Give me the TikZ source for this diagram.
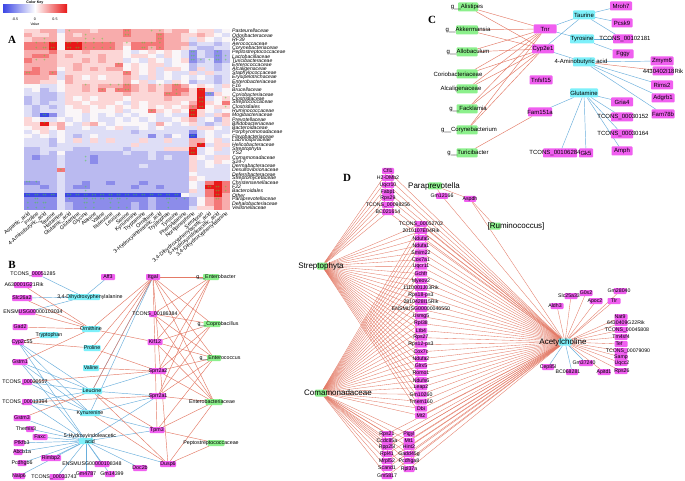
\documentclass[tikz,border=0pt]{standalone}
\usepackage{fontspec}
\setmainfont{Liberation Sans}
\newfontfamily\lserif{Liberation Serif}
\pgfdeclarelayer{bglayer}
\pgfdeclarelayer{edgelayer}
\pgfsetlayers{bglayer,edgelayer,main}
\definecolor{mag}{RGB}{240,95,240}
\definecolor{cya}{RGB}{125,240,250}
\definecolor{grn}{RGB}{140,240,140}
\definecolor{redE}{RGB}{228,122,102}
\definecolor{bluE}{RGB}{105,175,220}
\definecolor{mkg}{RGB}{70,210,50}
\definecolor{hR}{RGB}{232,25,25}
\definecolor{hr}{RGB}{244,120,120}
\definecolor{hp}{RGB}{248,172,172}
\definecolor{hq}{RGB}{252,214,214}
\definecolor{hw}{RGB}{250,246,248}
\definecolor{hc}{RGB}{222,222,246}
\definecolor{hb}{RGB}{186,186,240}
\definecolor{hB}{RGB}{140,140,234}
\definecolor{hD}{RGB}{60,70,228}
\def\curfont{\fontsize{5.3}{6}\selectfont}
\tikzset{
 txt/.style={font=\curfont, inner sep=0pt, outer sep=0pt, text=black},
 bigt/.style={font=\fontsize{8}{9}\selectfont, inner sep=0pt, outer sep=0pt},
 nbox/.style={draw=none, inner sep=0pt, outer sep=0pt, rounded corners=0.8pt},
 eR/.style={draw=redE, line width=0.45pt},
 eB/.style={draw=bluE, line width=0.45pt},
 eRt/.style={draw=redE, line width=0.35pt},
 plab/.style={font=\lserif\bfseries\fontsize{11}{11}\selectfont, inner sep=0pt},
 rowlab/.style={font=\fontsize{5.1}{5}\selectfont\itshape, anchor=west, inner sep=0pt},
 collab/.style={font=\fontsize{5.3}{5}\selectfont, anchor=east, rotate=40, inner sep=0pt},
 mk/.style={font=\fontsize{4}{4}\selectfont, text=mkg, inner sep=0pt},
 keytxt/.style={font=\fontsize{3.6}{4}\selectfont, inner sep=0pt},
}
\newcommand\mkn[8]{%
 \node[nbox, fill=#1, minimum width=#6pt, minimum height=#7pt] (#2) at ({#3+#5},{#4}) {};
 \node[txt] (#2t) at ({#3},{#4}) {#8};}
\begin{document}
\begin{tikzpicture}[x=1pt,y=-1pt]
\useasboundingbox (0,0) rectangle (685,481);
\begin{pgfonlayer}{bglayer}
\fill[white] (0,0) rectangle (685,481);
\end{pgfonlayer}

% ---------------- Panel A ----------------
\node[keytxt, font=\fontsize{3.6}{4}\selectfont\bfseries] (ckt) at (35,2.5) {Color Key};
\shade[left color=hD, right color=hR, middle color=white] (3,5) rectangle (67,13);
\node[keytxt] (ck1) at (15,19) {-0.5};
\node[keytxt] (ck2) at (35,19) {0};
\node[keytxt] (ck3) at (55,19) {0.5};
\node[keytxt] (ck4) at (35,24) {Value};
\node[plab] (pA) at (12,40) {A};

\foreach \rowv [count=\i] in {{q,q,p,p,c,p,p,p,q,p,p,p,r,p,p,p,p,q,p,p,w,q,q,c,w},{p,q,q,p,w,p,q,p,p,p,p,p,r,p,p,p,r,p,p,q,q,p,q,w,c},{q,p,p,p,w,p,p,p,p,p,p,p,p,p,p,p,r,p,p,q,c,q,w,c,w},{r,r,r,R,w,R,R,r,r,r,r,p,q,r,r,r,r,p,p,p,b,c,c,b,c},{r,r,r,R,w,R,R,r,r,r,r,p,w,r,r,p,r,p,p,q,c,b,b,c,c},{p,p,p,r,q,q,q,p,q,q,q,q,w,c,w,q,w,q,w,c,B,c,b,B,b},{p,r,r,p,q,p,q,q,q,p,q,q,w,q,q,w,c,q,w,c,B,c,b,B,b},{r,p,p,p,q,q,q,p,q,p,q,q,c,w,c,q,w,c,w,q,B,b,c,B,b},{p,p,p,p,q,q,p,q,q,q,q,r,w,q,w,q,q,c,w,w,b,c,c,b,c},{p,r,p,p,w,q,p,q,p,q,p,p,w,q,w,q,c,q,q,w,b,q,c,b,c},{r,r,p,r,c,q,q,q,q,q,q,q,r,q,w,q,c,w,c,c,q,c,q,c,c},{p,p,p,q,c,p,q,w,q,w,q,q,p,q,c,q,c,w,c,w,c,w,c,b,c},{p,p,q,q,w,p,q,q,q,q,q,q,p,w,q,c,w,c,q,w,b,c,c,b,c},{w,w,c,c,w,q,q,p,q,p,p,p,r,p,q,p,q,p,r,p,w,q,w,c,q},{c,w,b,c,w,q,q,p,q,r,q,r,r,p,q,p,q,p,r,r,q,R,q,c,w},{c,c,b,b,c,q,q,q,q,q,q,q,p,q,q,q,q,r,r,p,q,R,B,q,w},{b,c,b,b,c,q,w,q,w,q,q,q,w,q,q,q,q,p,q,q,q,R,c,w,q},{b,c,b,c,c,q,q,w,q,q,q,w,c,q,w,q,q,q,q,w,p,R,q,w,r},{c,b,c,b,c,w,q,q,w,q,w,q,w,q,w,q,w,q,w,q,r,R,w,q,q},{c,b,c,c,c,w,w,q,w,w,w,q,c,w,w,r,q,w,q,w,R,q,w,c,w},{c,b,D,B,c,w,w,c,w,c,w,c,w,c,w,w,c,w,c,c,R,q,c,q,p},{q,w,c,c,w,c,w,c,w,c,c,w,c,w,c,w,c,c,w,q,p,c,w,b,q},{q,q,R,q,p,w,c,q,p,w,c,w,w,w,w,c,p,w,c,w,q,c,b,c,q},{w,q,q,w,p,c,c,w,c,c,w,q,c,c,w,c,w,c,c,c,c,q,q,w,c},{c,w,q,c,w,c,c,c,c,c,c,c,c,b,c,c,c,c,c,c,B,c,w,c,c},{w,c,w,c,w,c,b,c,w,c,c,c,c,c,c,B,c,b,w,c,D,c,w,c,w},{c,c,c,b,w,c,q,c,q,c,q,c,c,c,q,c,c,q,c,c,p,p,w,q,c},{c,c,c,b,c,c,c,c,c,c,c,c,c,q,c,c,c,c,c,c,p,R,c,q,q},{b,b,c,c,c,c,b,b,c,c,c,c,b,c,c,c,c,q,q,q,R,c,w,q,c},{b,b,c,b,w,b,b,b,b,b,b,b,c,b,b,c,b,b,b,b,R,c,w,c,c},{b,B,b,b,c,b,b,b,B,b,b,b,b,b,b,c,b,c,b,b,q,w,c,q,q},{b,b,b,b,c,b,b,b,B,b,b,b,b,b,b,b,b,b,b,b,q,c,w,q,w},{b,b,b,b,c,b,b,b,b,b,b,b,b,b,c,b,b,b,b,b,q,c,w,c,c},{b,b,b,b,r,b,b,b,b,b,b,b,b,b,b,b,b,b,b,b,q,c,c,c,c},{b,b,b,b,c,b,b,b,b,b,b,b,b,b,b,b,b,b,b,b,w,c,c,c,c},{b,b,b,b,c,b,b,b,b,b,b,b,b,b,b,b,b,b,b,b,q,w,c,c,c},{B,B,b,b,c,b,b,B,b,b,B,b,b,b,B,b,b,b,b,b,w,c,r,R,r},{b,b,B,b,c,b,B,B,b,b,b,b,b,B,b,b,B,b,b,b,w,c,R,R,r},{b,b,b,b,c,b,b,b,b,b,b,b,b,b,b,b,b,b,b,b,q,c,r,R,r},{D,D,D,D,c,D,D,D,D,D,D,D,D,D,D,D,D,D,D,w,c,c,r,R,p},{B,B,B,B,c,B,B,B,B,B,B,B,B,B,B,b,B,B,B,B,b,w,p,r,p},{B,B,B,B,c,b,B,B,B,B,B,B,B,b,B,b,B,B,B,B,b,w,p,r,p},{B,B,B,B,c,b,B,B,B,B,B,B,B,b,B,b,B,B,B,B,c,q,q,r,p}}{%
  \foreach \cv [count=\j] in \rowv {%
    \fill[fill=h\cv] ({24+(\j-1)*8.24},{29+(\i-1)*4.21}) rectangle ++(8.5,4.45);
  }
}
\foreach \cc/\rr/\mm [count=\q] in {6/1/+,13/1/++,16/1/+,17/1/+,8/2/+,13/2/++,17/2/++,3/3/+,8/3/+,9/3/+,10/3/+,17/3/++,
2/4/+,3/4/+,4/4/++,6/4/++,7/4/+,8/4/+,9/4/+,10/4/+,11/4/+,13/4/+,15/4/++,16/4/+,17/4/+,
2/5/+,3/5/++,4/5/++,6/5/++,7/5/++,8/5/+,9/5/+,10/5/+,11/5/+,15/5/++,16/5/+,17/5/+,
21/6/++,24/6/+,3/7/+,21/7/++,24/7/++,25/7/+,2/8/+,3/8/+,21/8/++,22/8/+,23/8/+,24/8/++,25/8/+,
12/9/+,1/11/++,4/11/+,13/11/+,
8/14/+,11/14/+,12/14/+,13/14/++,17/14/+,19/14/++,10/15/+,12/15/+,13/15/++,19/15/+,22/15/++,
18/16/++,19/16/+,23/16/++,22/17/++,25/17/+,22/18/++,21/19/+,22/19/++,25/19/+,16/20/+,21/20/++,3/21/++,21/21/++,3/23/+,
21/26/++,22/28/+,21/29/++,21/30/++,8/31/+,8/32/+,5/34/+,1/37/++,2/37/+,8/38/+,23/38/++,24/38/++,25/38/+,8/39/+,24/39/++,25/39/+,
1/40/++,2/40/++,3/40/++,4/40/++,6/40/++,7/40/++,8/40/++,9/40/++,10/40/++,11/40/++,12/40/++,13/40/++,14/40/++,15/40/++,16/40/++,17/40/++,18/40/++,19/40/++,24/40/++,
2/41/++,6/41/+,8/41/++,9/41/++,10/41/++,11/41/++,12/41/++,13/41/+,18/41/++,19/41/+,20/41/+,24/41/++,
1/42/+,2/42/++,3/42/++,8/42/++,9/42/+,11/42/+,12/42/+,18/42/+,
1/43/+,2/43/+,3/43/+,8/43/+,9/43/+,11/43/+,12/43/+,13/43/+,18/43/+}
  \node[mk] (mk\q) at ({24+(\cc-0.5)*8.24},{29+(\rr-0.5)*4.21}) {\mm};

\foreach \n [count=\i] in {Pasteurellaceae,Odoribacteraceae,RF39,Aerococcaceae,Corynebacteriaceae,Peptostreptococcaceae,Lactobacillaceae,Turicibacteraceae,Enterococcaceae,Alcaligenaceae,Staphylococcaceae,Erysipelotrichaceae,Enterobacteriaceae,F16,Brucellaceae,Coriobacteriaceae,Clostridiaceae,Streptococcaceae,Clostridiales,Ruminococcaceae,Mogibacteriaceae,Prevotellaceae,Bifidobacteriaceae,Bacteroidaceae,Porphyromonadaceae,Flavobacteriaceae,Lachnospiraceae,Helicobacteraceae,Streptophyta,YS2,Comamonadaceae,S24-7,Dermabacteraceae,Desulfovibrionaceae,Deferribacteraceae,Streptomycetaceae,Christensenellaceae,F22,Bacteroidales,Other,Paraprevotellaceae,Dehalobacteriaceae,Veillonellaceae}
  \node[rowlab] (rl\i) at (232,{29+(\i-0.5)*4.21}) {\n};

\foreach \n [count=\j] in {Aspartic\_acid,Proline,4-Aminobutyric\_acid,Taurine,Histamine,Glutamic\_acid,Glutamine,Glycine,Alanine,Valine,Isoleucine,Leucine,Serine,Kynurenine,Tryptamine,Ornithine,3-Hydroxyanthranilic\_acid,Tryptophan,Tyrosine,Phenylalanine,Norepinephrine,Serotonin,{3,4-Dihydroxyphenylacetic\_acid},5-Hydroxyindoleacetic\_acid,{3,4-Dihydroxyphenylalanine}}
  \node[collab] (cl\j) at ({24+(\j-0.5)*8.24+1.5},213) {\n};

% ---------------- Panel B ----------------
\node[plab] (pB) at (12,265) {B};
\def\curfont{\fontsize{5.3}{6}\selectfont}
\mkn{mag}{bTC1}{33}{274}{4}{11}{6}{TCONS\_00051285}
\mkn{mag}{bA63}{24}{285}{-1}{18}{6}{A630001G21Rik}
\mkn{mag}{bSlc}{22}{298}{0}{20}{6}{Slc26a2}
\mkn{mag}{bENS}{33}{312}{-6}{17}{6}{ENSMUSG00000103034}
\mkn{mag}{bGad}{20}{327}{0}{15}{6}{Gad2}
\mkn{mag}{bCyp}{22}{342}{-4}{12}{6}{Cyp2c55}
\mkn{mag}{bGsA}{20}{362}{0}{15}{6}{Gstm1}
\mkn{mag}{bAff}{108}{277}{0}{14}{6}{Aff3}
\mkn{mag}{bItg}{153}{277}{0}{14}{6}{Itgal}
\mkn{mag}{bTC2}{155}{314}{-2}{8}{6}{TCONS\_00186384}
\mkn{mag}{bKif}{155}{342}{0}{15}{6}{Kif12}
\mkn{mag}{bSpB}{158}{371}{0}{16}{6}{Sprr2a2}
\mkn{mag}{bSpA}{158}{396}{0}{16}{6}{Sprr2a1}
\mkn{mag}{bTpm}{157}{430}{0}{15}{6}{Tpm3}
\mkn{mag}{bDus}{168}{464}{0}{16}{6}{Dusp6}
\mkn{mag}{bDoc}{140}{468}{0}{14}{6}{Doc2b}
\mkn{mag}{bG14}{112}{474}{-2}{10}{6}{Gm14399}
\mkn{mag}{bG47}{86}{474}{0}{14}{6}{Gm4787}
\mkn{mag}{bEN2}{92}{464}{10}{15}{6}{ENSMUSG00000108348}
\mkn{mag}{bTC3}{54}{477}{3}{15}{6}{TCONS\_00033743}
\mkn{mag}{bNai}{19}{476}{0}{12}{6}{Naip6}
\mkn{mag}{bRim}{51}{458}{0}{20}{6}{Rimbp2}
\mkn{mag}{bPcd}{22}{463}{0}{9}{6}{Pcdhgb6}
\mkn{mag}{bAbc}{22}{452}{-4}{9}{6}{Abcb1a}
\mkn{mag}{bPfk}{22}{443}{-3}{11}{6}{Pfkfb3}
\mkn{mag}{bFax}{40}{437}{0}{15}{6}{Faxc}
\mkn{mag}{bThe}{26}{429}{4}{8}{6}{Themis3}
\mkn{mag}{bGsB}{22}{418}{0}{17}{6}{Gstm3}
\mkn{mag}{bTC4}{25}{402}{2}{10}{6}{TCONS\_00013394}
\mkn{mag}{bTC5}{25}{382}{2}{10}{6}{TCONS\_00030557}
\mkn{cya}{bDOP}{90}{297}{-6}{32}{6}{3,4-Dihydroxyphenylalanine}
\mkn{cya}{bOrn}{91}{329}{0}{18}{6}{Ornithine}
\mkn{cya}{bTrp}{49}{335}{0}{19}{6}{Tryptophan}
\mkn{cya}{bPro}{92}{348}{0}{17}{6}{Proline}
\mkn{cya}{bVal}{91}{368}{0}{16}{6}{Valine}
\mkn{cya}{bLeu}{92}{391}{0}{20}{6}{Leucine}
\mkn{cya}{bKyn}{90}{413}{0}{20}{6}{Kynurenine}
\node[nbox, fill=cya, minimum width=14pt, minimum height=6pt] (bHIA) at (86,441) {};
\node[txt, align=center] (bHIAt) at (90,438.5) {5-Hydroxyindoleacetic\\acid};
\mkn{grn}{bEnt}{216}{277}{-5}{16}{6}{g\_\_Enterobacter}
\mkn{grn}{bCop}{218}{324}{-6}{17}{6}{g\_\_Coprobacillus}
\mkn{grn}{bEnc}{220}{358}{-6}{14}{6}{g\_\_Enterococcus}
\mkn{grn}{bEnF}{212}{402}{2}{17}{6}{Enterobacteriaceae}
\mkn{grn}{bPep}{211}{443}{5}{17}{6}{Peptostreptococcaceae}

% ---------------- Panel C ----------------
\node[plab] (pC) at (432,20) {C};
\def\curfont{\fontsize{6}{7}\selectfont}
\mkn{grn}{cAli}{467}{7}{1}{20}{9}{g\_\_Alistipes}
\mkn{grn}{cAkk}{468}{30}{-1}{22}{9}{g\_\_Akkermansia}
\mkn{grn}{cAllo}{468}{52}{-1}{21}{9}{g\_\_Allobaculum}
\mkn{grn}{cCor}{458}{74}{9}{21}{9}{Coriobacteriaceae}
\mkn{grn}{cAlc}{461}{89}{6}{21}{9}{Alcaligenaceae}
\mkn{grn}{cFac}{468}{109}{-1}{21}{9}{g\_\_Facklamia}
\mkn{grn}{cCory}{469}{130}{-2}{21}{9}{g\_\_Corynebacterium}
\mkn{grn}{cTur}{468}{153}{-1}{21}{9}{g\_\_Turicibacter}
\mkn{mag}{cTnr}{545}{29}{0}{23}{9}{Tnr}
\mkn{mag}{cCyp}{543}{49}{0}{22}{9}{Cyp2e1}
\mkn{mag}{cTnf}{541}{80}{0}{23}{9}{Tnfsf15}
\mkn{mag}{cFam}{540}{112}{0}{24}{9}{Fam151a}
\mkn{mag}{cMro}{621}{6}{0}{22}{9}{Mroh7}
\mkn{mag}{cPcs}{622}{23}{0}{21}{9}{Pcsk9}
\mkn{mag}{cTC1}{625}{39}{-2}{20}{9}{TCONS\_00102181}
\mkn{mag}{cFgg}{623}{54}{0}{21}{9}{Fggy}
\mkn{mag}{cZmy}{662}{61}{0}{23}{9}{Zmym6}
\mkn{mag}{cRik}{663}{71}{0}{21}{9}{4430402I18Rik}
\mkn{mag}{cRim}{662}{85}{0}{22}{9}{Rims2}
\mkn{mag}{cAdg}{663}{98}{0}{23}{9}{Adgrb1}
\mkn{mag}{cF78}{663}{114}{0}{23}{9}{Fam78b}
\mkn{mag}{cGri}{622}{102}{0}{22}{9}{Gria4}
\mkn{mag}{cTC2}{623}{117}{-1}{22}{9}{TCONS\_00030152}
\mkn{mag}{cTC3}{623}{134}{-1}{22}{9}{TCONS\_00030164}
\mkn{mag}{cAmp}{622}{151}{0}{21}{9}{Amph}
\mkn{mag}{cGk5}{586}{153}{0}{14}{9}{Gk5}
\mkn{mag}{cTC4}{555}{153}{5}{34}{9}{TCONS\_00106284}
\mkn{cya}{cTau}{584}{15}{0}{22}{9}{Taurine}
\mkn{cya}{cTyr}{582}{39}{0}{24}{9}{Tyrosine}
\mkn{cya}{cGAB}{581}{62}{3}{22}{9}{4-Aminobutyric acid}
\mkn{cya}{cGln}{584}{93}{0}{28}{9}{Glutamine}

% ---------------- Panel D ----------------
\node[plab] (pD) at (347,178) {D};
\def\curfont{\fontsize{5.2}{6}\selectfont}
\foreach \t/\yy [count=\k] in {Cfl1/171,H2-DMb2/178,Uqcr10/185,Fabp1/192,Rps29/198,TCONS\_00098256/205,BC021614/212}
  {\mkn{mag}{dt\k}{388}{\yy}{0}{12}{6}{\t}}
\foreach \t [count=\k] in {TCONS\_00052702,2010107E04Rik,Ndufa5,Ndufa1,Smim22,Cox7a1,Uqcr11,Gchfr,Myeov2,1110001J03Rik,Rps18-ps3,2810428I15Rik,ENSMUSG00000046550,Usmg5,Rpl38,Ltb4,Rps27,Rps12-ps3,Cox7c,Ndufa2,Glrx5,Romo1,Ndufs6,Leap2,Gm10260,Tmem160,Dbi,Mt2}
  {\mkn{mag}{dm\k}{421}{224+7.1*(\k-1)}{0}{12}{6}{\t}}
\foreach \t/\yy [count=\k] in {Rps21/434,Ccdc85a/441,Rpp25l/447,Rpl41/454,Mrpl52/461,Scand1/468,Gm5817/476}
  {\mkn{mag}{dbl\k}{387}{\yy}{0}{11}{6}{\t}}
\foreach \t/\yy [count=\k] in {Pigyl/434,Mt1/441,Hint2/447,Gadd45g/454,Pcdhga8/461,Rpl37a/469}
  {\mkn{mag}{dbr\k}{409}{\yy}{0}{11}{6}{\t}}
\foreach \t/\xx/\yy/\dd [count=\k] in {Aldh3/555/306/2,Slc25a33/569/296/2,G0s2/586/293/0,Apoc2/595/301/1,Gm28040/619/291/1,Tlr/614/301/0,Nat9/620/317/1,6430409G22Rik/626/323/-5,TCONS\_00045808/627/330/-6,Tm4sf4/621/337/0,Tef/619/344/2,TCONS\_00079090/628/351/-7,Samp/621/357/0,Uqcc2/622/363/-1,Rps26/622/371/-1,Apitd1/604/372/0}
  {\mkn{mag}{dr\k}{\xx}{\yy}{\dd}{13}{6}{\t}}
\mkn{mag}{dl1}{548}{367}{0}{12}{6}{Cep85l}
\mkn{mag}{dl2}{584}{363}{2}{14}{6}{Gm37240}
\mkn{mag}{dl3}{568}{372}{4}{12}{6}{BC068281}
\mkn{mag}{dGm}{442}{196}{0}{12}{6}{Gm12166}
\mkn{mag}{dAsp}{470}{199}{0}{12}{6}{Aspdh}
\node[nbox, fill=grn, minimum width=10pt, minimum height=7pt] (dStr) at (322,266) {};
\node[bigt] (dStrt) at (321,266) {Streptophyta};
\node[nbox, fill=grn, minimum width=12pt, minimum height=7pt] (dCom) at (321,393) {};
\node[bigt] (dComt) at (338,393) {Comamonadaceae};
\node[nbox, fill=grn, minimum width=14pt, minimum height=7pt] (dPar) at (435,186) {};
\node[bigt] (dPart) at (434,186) {Paraprevotella};
\node[nbox, fill=grn, minimum width=11pt, minimum height=7pt] (dRum) at (495,226) {};
\node[bigt] (dRumt) at (516,226) {[Ruminococcus]};
\node[nbox, fill=cya, minimum width=13pt, minimum height=7pt] (dAch) at (565,342) {};
\node[bigt] (dAcht) at (563,342) {Acetylcholine};

% ---------------- Edges ----------------
\begin{pgfonlayer}{edgelayer}
\foreach \a/\b in {bAff/bDOP,bTC1/bDOP,bSlc/bDOP,bENS/bDOP,bCyp/bLeu,bCyp/bKyn,bCyp/bHIA,bGsA/bLeu,bGsA/bKyn,bGsA/bHIA,
 bTC5/bLeu,bTC5/bKyn,bTC4/bLeu,bTC4/bKyn,bTC4/bHIA,bItg/bLeu,bItg/bKyn,bLeu/bSpA,bLeu/bSpB,bKyn/bSpA,bKyn/bTpm,
 bHIA/bThe,bHIA/bFax,bHIA/bPfk,bHIA/bAbc,bHIA/bPcd,bHIA/bRim,bHIA/bNai,bHIA/bTC3,bHIA/bG47,bHIA/bG14,bHIA/bEN2,bHIA/bDoc,bHIA/bTpm,bHIA/bSpA,bHIA/bGsB,bHIA/bDus}
  \draw[eB] (\a) -- (\b);
\foreach \a/\b in {bA63/bOrn,bSlc/bOrn,bGad/bOrn,bCyp/bTrp,bCyp/bPro,bGsA/bOrn,bENS/bOrn,bOrn/bKif,bOrn/bItg,bPro/bSpB,bPro/bItg,bVal/bSpB,bVal/bItg,bLeu/bItg,bTC5/bSpB,bGsB/bLeu,bTC4/bSpA,bLeu/bTpm,bKyn/bDus,bLeu/bDus,
 bItg/bEnt,bItg/bCop,bItg/bEnc,bItg/bEnF,bItg/bTpm,bItg/bDus,bTC2/bEnt,bTC2/bCop,bTC2/bEnc,bTC2/bEnF,bKif/bEnt,bKif/bCop,bKif/bEnc,bKif/bEnF,
 bSpB/bEnt,bSpB/bCop,bSpB/bEnc,bSpB/bEnF,bSpA/bEnt,bSpA/bCop,bSpA/bEnc,bSpA/bEnF,bTpm/bEnc,bTpm/bEnF,bTpm/bPep,bDus/bPep,bDus/bEnF}
  \draw[eR] (\a) -- (\b);
\foreach \a in {cAli,cAkk,cAllo,cCor,cAlc,cFac,cCory}
  {\draw[eR] (\a) -- (cTnr); \draw[eR] (\a) -- (cCyp);}
\draw[eR] (cTur) -- (cFam);
\draw[eR] (cGAB) -- (cRik);
\foreach \a/\b in {cTnr/cTau,cCyp/cTau,cTnr/cTyr,cCyp/cGAB,cTau/cMro,cTau/cPcs,cTau/cTC1,cTyr/cTC1,cTyr/cFgg,cGAB/cZmy,cGAB/cRim,cGAB/cAdg,cGAB/cF78,cGln/cFam,cGln/cGri,cGln/cTC2,cGln/cTC3,cGln/cAmp,cGln/cGk5,cGln/cTC4}
  \draw[eB] (\a) -- (\b);
\foreach \k in {1,...,7} {\draw[eRt] (dStr) -- (dt\k); \draw[eRt] (dt\k) -- (dAch);}
\foreach \k in {1,...,28} {\draw[eRt] (dStr) -- (dm\k); \draw[eRt] (dCom) -- (dm\k); \draw[eRt] (dm\k) -- (dAch);}
\foreach \k in {1,...,7} {\draw[eRt] (dCom) -- (dbl\k); \draw[eRt] (dbl\k) -- (dAch);}
\foreach \k in {1,...,6} {\draw[eRt] (dCom) -- (dbr\k); \draw[eRt] (dbr\k) -- (dAch);}
\foreach \k in {1,...,16} \draw[eRt] (dAch) -- (dr\k);
\draw[eRt] (dPar) -- (dGm); \draw[eRt] (dPar) -- (dAsp); \draw[eRt] (dRum) -- (dAsp);
\draw[eRt] (dGm) -- (dAch); \draw[eRt] (dAsp) -- (dAch);
\draw[eB] (dAch) -- (dl1); \draw[eB] (dAch) -- (dl2); \draw[eB] (dAch) -- (dl3);
\end{pgfonlayer}
\end{tikzpicture}
\end{document}
